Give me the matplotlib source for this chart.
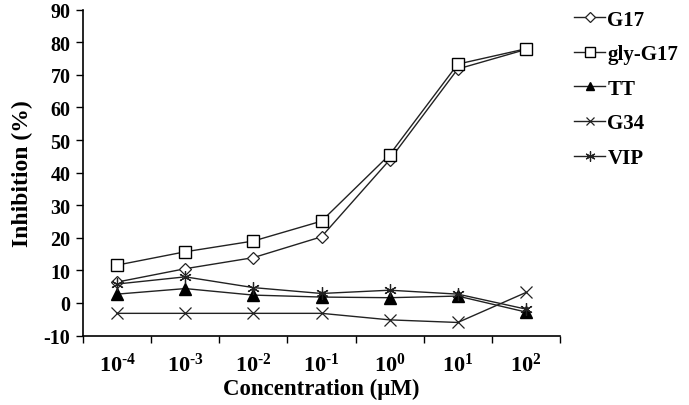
import matplotlib
matplotlib.use("Agg")
import matplotlib.pyplot as plt
import numpy as np

plt.rcParams['font.family'] = ['Liberation Serif', 'DejaVu Serif']
plt.rcParams['font.weight'] = 'bold'
plt.rcParams['axes.unicode_minus'] = False
plt.rcParams['mathtext.fontset'] = 'custom'
plt.rcParams['mathtext.rm'] = 'Liberation Serif:bold'
plt.rcParams['mathtext.it'] = 'Liberation Serif:bold'
plt.rcParams['mathtext.bf'] = 'Liberation Serif:bold'
plt.rcParams['mathtext.default'] = 'rm'

categories = ['$10^{\u2010 4}$', '$10^{\u2010 3}$', '$10^{\u2010 2}$', '$10^{\u2010 1}$',
              '$10^{0}$', '$10^{1}$', '$10^{2}$']
g17 = [6.4, 10.5, 13.9, 20.3, 43.9, 71.8, 77.8]
gly_g17 = [11.6, 15.7, 19.0, 25.1, 45.5, 73.3, 78.0]
tt = [2.7, 4.4, 2.4, 1.8, 1.6, 2.1, -2.8]
g34 = [-3.2, -3.2, -3.2, -3.2, -5.2, -6.0, 3.2]
vip = [5.8, 8.0, 4.7, 2.9, 3.9, 2.7, -1.9]
y_ticks = [-10, 0, 10, 20, 30, 40, 50, 60, 70, 80, 90]

fig = plt.figure(figsize=(6.89, 4.06), dpi=100)
ax = fig.add_axes([83/689, (406-336.5)/406, (560-83)/689, (336.5-10.7)/406])

x = np.arange(len(categories))
lc = '#222222'
ax.plot(x, g17, color=lc, lw=1.0, marker='D', ms=6.5, mfc='white', mec=lc, mew=0.9, label='G17')
ax.plot(x, gly_g17, color=lc, lw=1.0, marker='s', ms=8.5, mfc='white', mec='black', mew=1.0, label='gly-G17')
ax.plot(x, tt, color=lc, lw=1.0, marker='^', ms=8, mfc='black', mec='black', label='TT')
ax.plot(x, g34, color=lc, lw=1.0, marker='x', ms=8, mec=lc, mew=0.9, label='G34')
ax.plot(x, vip, color=lc, lw=1.0, marker=(6, 2, 0), ms=9, mec=lc, mew=0.9, label='VIP')

ax.set_xlim(-0.5, len(categories) - 0.5)
ax.set_ylim(-10, 90)
ax.set_yticks(y_ticks)
ax.set_xticks(x)
ax.set_xticklabels(categories, fontsize=16)
ax.set_xticks(np.arange(len(categories) + 1) - 0.5, minor=True)
ax.tick_params(axis='x', which='major', length=0, pad=12)
ax.tick_params(axis='x', which='minor', length=5, width=1, direction='out')
ax.tick_params(axis='y', length=5, width=1, direction='out', labelsize=14.5, pad=4)
for s in ['top', 'right']:
    ax.spines[s].set_visible(False)
for s in ['left', 'bottom']:
    ax.spines[s].set_linewidth(1.2)

ax.set_xlabel('Concentration (\u03bcM)', fontsize=16.5, fontweight='bold', labelpad=2)
ax.set_ylabel('Inhibition (%)', fontsize=17, fontweight='bold', labelpad=8)

h, l = ax.get_legend_handles_labels()
leg = fig.legend(h, l, loc='upper left', bbox_to_anchor=(0.812, 1.01), frameon=False,
                 handlelength=1.5, handletextpad=0.1, labelspacing=0.7, borderaxespad=0.3,
                 markerscale=0.8,
                 prop={'family': 'Liberation Serif', 'weight': 'bold', 'size': 15})

fig.savefig('out.png', dpi=100)
